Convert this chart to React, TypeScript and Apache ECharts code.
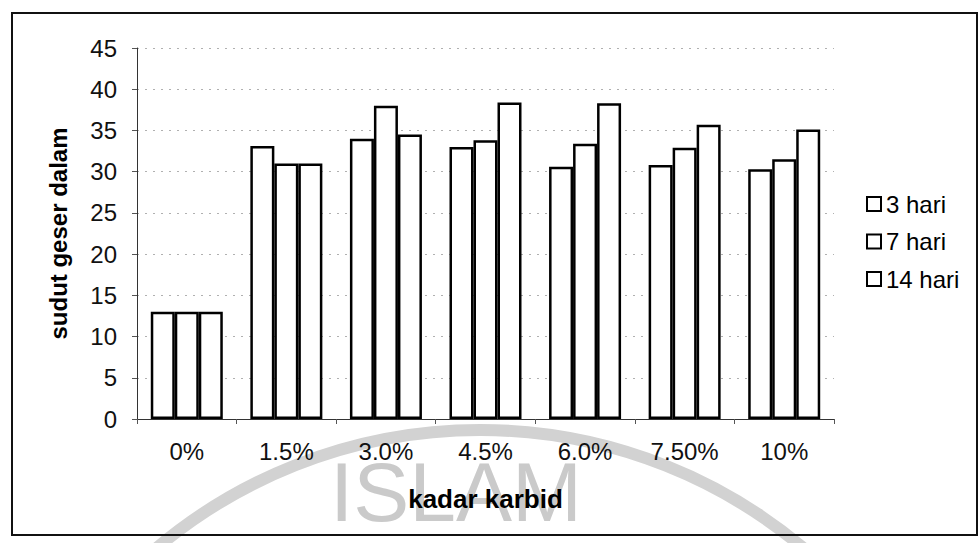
import React, { useEffect, useRef } from "react";
import * as echarts from "echarts";

const categories = ["0%", "1.5%", "3.0%", "4.5%", "6.0%", "7.50%", "10%"];
const seriesNames = ["3 hari", "7 hari", "14 hari"];
const hari3 = [13, 33.1, 34, 33, 30.6, 30.8, 30.3];
const hari7 = [13, 31, 38, 33.8, 33.4, 32.9, 31.5];
const hari14 = [13, 31, 34.5, 38.4, 38.3, 35.7, 35.1];
const seriesValues = [hari3, hari7, hari14];
const yTicks = [0, 5, 10, 15, 20, 25, 30, 35, 40, 45];
const xTitle = "kadar karbid";
const yTitle = "sudut geser dalam";
const watermark = "ISLAM";

const FONT = "'Liberation Sans', Arial, sans-serif";

export default function App() {
  const ref = useRef<HTMLDivElement>(null);
  useEffect(() => {
    if (!ref.current) return;
    const chart = echarts.init(ref.current, undefined, { renderer: "svg" });
    chart.setOption({
      animation: false,
      backgroundColor: "#ffffff",
      textStyle: { fontFamily: FONT },
      grid: { left: 137, top: 48, width: 697, height: 371, containLabel: false },
      legend: {
        orient: "vertical",
        left: 861,
        top: 187,
        itemWidth: 14,
        itemHeight: 14,
        itemGap: 13.5,
        icon: "rect",
        selectedMode: false,
        data: seriesNames,
        textStyle: { fontSize: 24, color: "#000", fontFamily: FONT, lineHeight: 24 },
      },
      xAxis: {
        type: "category",
        data: categories,
        name: xTitle,
        nameLocation: "middle",
        nameGap: 67,
        nameTextStyle: { fontSize: 26, fontWeight: "bold", color: "#000", fontFamily: FONT },
        axisLine: { lineStyle: { color: "#333", width: 1 } },
        axisTick: { show: true, length: 5, lineStyle: { color: "#555" } },
        axisLabel: { fontSize: 24, color: "#111", margin: 20, fontFamily: FONT },
      },
      yAxis: {
        type: "value",
        min: yTicks[0],
        max: yTicks[yTicks.length - 1],
        interval: 5,
        name: yTitle,
        nameLocation: "middle",
        nameGap: 67,
        nameTextStyle: { fontSize: 24, fontWeight: "bold", color: "#000", fontFamily: FONT },
        axisLine: { show: true, lineStyle: { color: "#333", width: 1 } },
        axisTick: { show: true, length: 5, lineStyle: { color: "#555" } },
        axisLabel: { fontSize: 24, color: "#111", margin: 20, fontFamily: FONT },
        splitLine: { show: true, lineStyle: { color: "#b0b0b0", type: [2, 6], width: 1 } },
      },
      series: seriesNames.map((name, i) => ({
        name,
        type: "bar",
        data: seriesValues[i],
        barWidth: 24,
        barGap: "0%",
        itemStyle: { color: "#ffffff", borderColor: "#000", borderWidth: 2.5 },
        z: 3,
      })),
      graphic: [
        {
          type: "arc",
          z: -10,
          silent: true,
          shape: { cx: 480, cy: 932, r: 502, startAngle: -2.3, endAngle: -0.84, clockwise: true },
          style: { stroke: "#d2d2d2", lineWidth: 12, fill: "none" },
        },
        {
          type: "text",
          z: -10,
          silent: true,
          left: 330,
          top: 450,
          style: {
            text: watermark,
            font: `84px ${FONT}`,
            fill: "#cacaca",
          },
        },
        {
          type: "rect",
          z: 100,
          silent: true,
          shape: { x: 12, y: 13, width: 965, height: 522 },
          style: { fill: "none", stroke: "#111", lineWidth: 2 },
        },
      ],
    });
    return () => chart.dispose();
  }, []);
  return (
    <div
      ref={ref}
      style={{ position: "fixed", left: 0, top: 0, width: 979, height: 543 }}
    />
  );
}
